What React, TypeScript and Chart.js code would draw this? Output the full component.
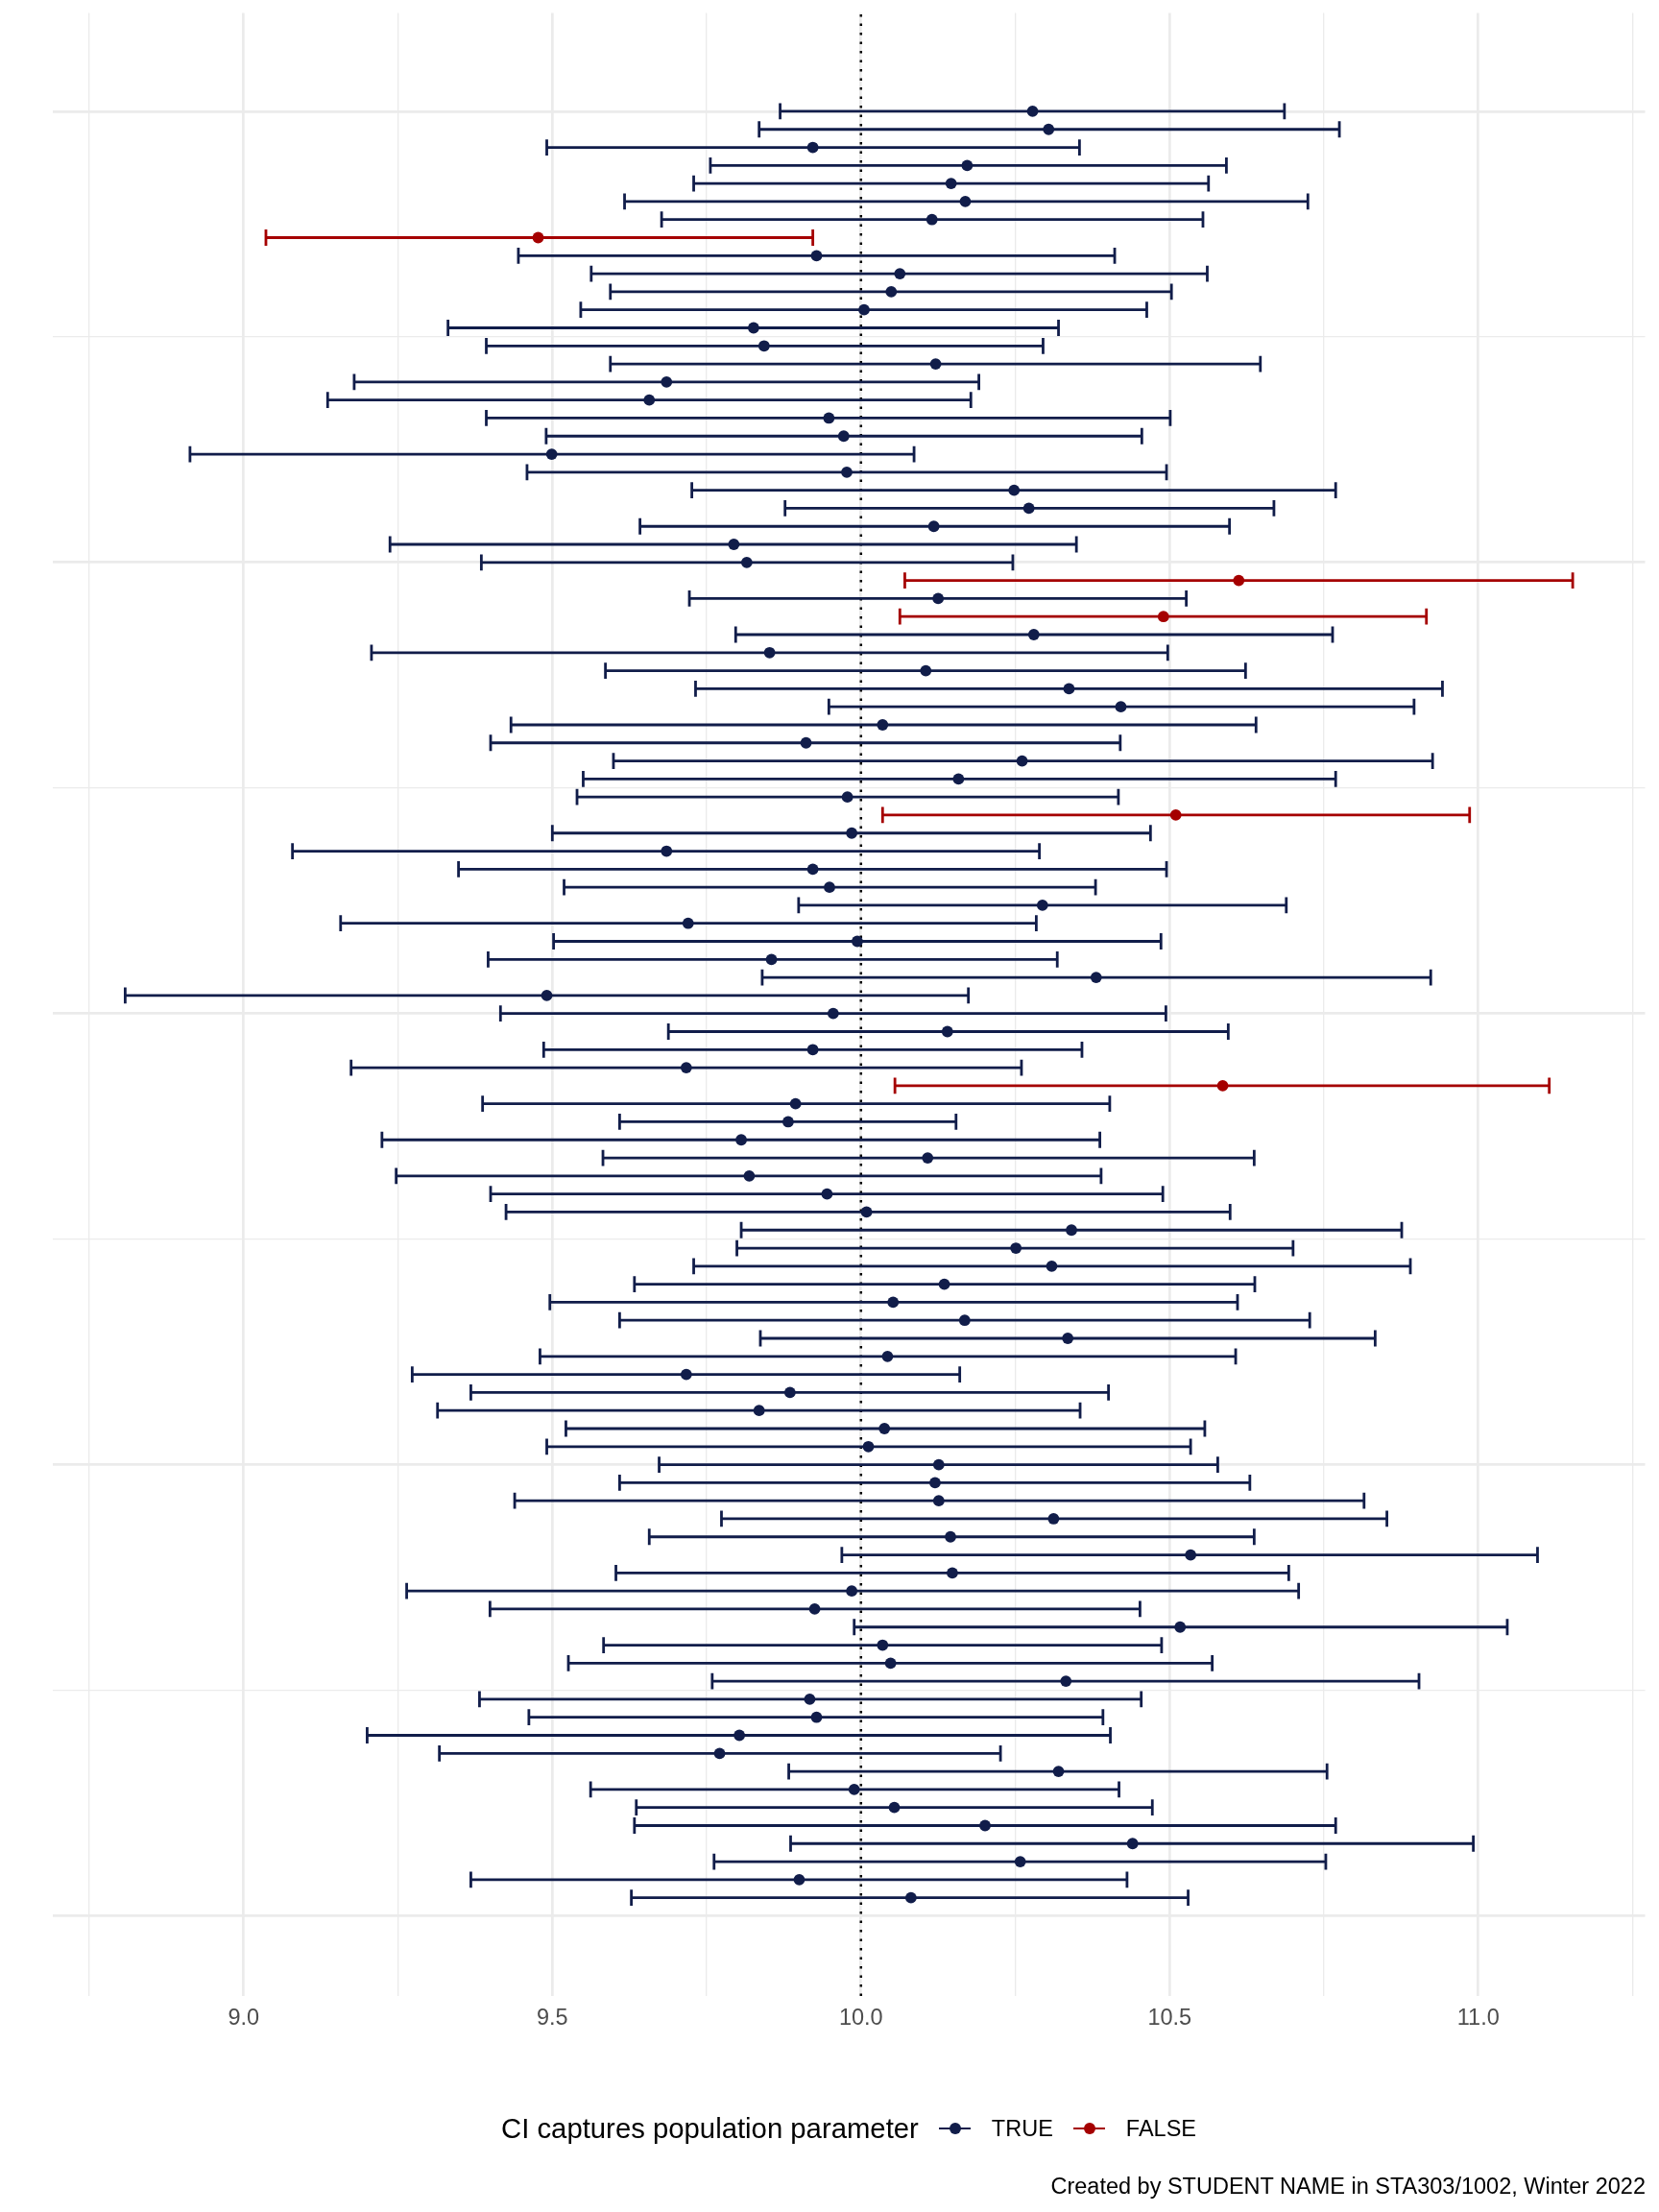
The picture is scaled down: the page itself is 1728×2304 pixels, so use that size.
import React, { useEffect, useRef } from 'react';
import { Chart, registerables } from 'chart.js';

Chart.register(...registerables);

// Intervals listed from the top row (sample 100) down to the bottom row (sample 1)
const lowerBounds = [
  9.869, 9.835, 9.491, 9.756, 9.729, 9.617, 9.677, 9.036, 9.445, 9.563,
  9.594, 9.546, 9.331, 9.393, 9.594, 9.179, 9.136, 9.393, 9.49, 8.913,
  9.459, 9.726, 9.877, 9.642, 9.237, 9.385, 10.071, 9.722, 10.063, 9.797,
  9.207, 9.586, 9.732, 9.948, 9.433, 9.4, 9.599, 9.55, 9.54, 10.035,
  9.5, 9.079, 9.348, 9.519, 9.899, 9.157, 9.502, 9.396, 9.84, 8.808,
  9.416, 9.688, 9.486, 9.174, 10.055, 9.387, 9.609, 9.224, 9.582, 9.247,
  9.4, 9.425, 9.806, 9.799, 9.729, 9.633, 9.496, 9.609, 9.837, 9.48,
  9.273, 9.368, 9.314, 9.522, 9.491, 9.673, 9.609, 9.439, 9.774, 9.657,
  9.969, 9.603, 9.264, 9.399, 9.989, 9.583, 9.526, 9.759, 9.382, 9.462,
  9.2, 9.317, 9.883, 9.562, 9.636, 9.633, 9.886, 9.762, 9.368, 9.628,
];

const estimates = [
  10.278, 10.304, 9.922, 10.172, 10.146, 10.169, 10.115, 9.477, 9.928, 10.063,
  10.049, 10.005, 9.826, 9.843, 10.121, 9.685, 9.657, 9.948, 9.972, 9.499,
  9.977, 10.248, 10.272, 10.118, 9.794, 9.815, 10.612, 10.125, 10.49, 10.28,
  9.852, 10.105, 10.337, 10.421, 10.035, 9.911, 10.261, 10.158, 9.978, 10.51,
  9.985, 9.685, 9.922, 9.949, 10.294, 9.72, 9.994, 9.855, 10.381, 9.491,
  9.955, 10.14, 9.922, 9.717, 10.586, 9.894, 9.882, 9.806, 10.108, 9.819,
  9.945, 10.009, 10.341, 10.251, 10.309, 10.135, 10.052, 10.168, 10.335, 10.043,
  9.717, 9.885, 9.835, 10.038, 10.012, 10.126, 10.12, 10.126, 10.312, 10.145,
  10.534, 10.148, 9.985, 9.925, 10.517, 10.035, 10.048, 10.332, 9.917, 9.928,
  9.803, 9.771, 10.32, 9.989, 10.054, 10.201, 10.44, 10.258, 9.9, 10.081,
];

const upperBounds = [
  10.686, 10.775, 10.354, 10.592, 10.563, 10.724, 10.554, 9.922, 10.411, 10.561,
  10.503, 10.463, 10.32, 10.295, 10.647, 10.191, 10.178, 10.501, 10.455, 10.086,
  10.495, 10.769, 10.669, 10.597, 10.349, 10.246, 11.153, 10.527, 10.916, 10.764,
  10.497, 10.623, 10.942, 10.896, 10.64, 10.42, 10.926, 10.769, 10.417, 10.986,
  10.469, 10.289, 10.495, 10.38, 10.689, 10.284, 10.486, 10.318, 10.923, 10.174,
  10.494, 10.595, 10.358, 10.26, 11.115, 10.403, 10.154, 10.387, 10.637, 10.389,
  10.489, 10.598, 10.876, 10.7, 10.89, 10.638, 10.61, 10.727, 10.833, 10.607,
  10.16, 10.401, 10.355, 10.557, 10.534, 10.578, 10.63, 10.815, 10.852, 10.637,
  11.096, 10.693, 10.709, 10.452, 11.047, 10.487, 10.569, 10.904, 10.454, 10.392,
  10.404, 10.226, 10.755, 10.418, 10.472, 10.769, 10.992, 10.753, 10.431, 10.53,
];

const populationParameter = 10;

const xMajorTicks = [9, 9.5, 10, 10.5, 11];
const xTickLabels = ['9.0', '9.5', '10.0', '10.5', '11.0'];
const xMinorTicks = [8.75, 9.25, 9.75, 10.25, 10.75, 11.25];
const yMajorTicks = [0, 25, 50, 75, 100];
const yMinorTicks = [12.5, 37.5, 62.5, 87.5];

const legendTitle = 'CI captures population parameter';
const legendLabels = ['TRUE', 'FALSE'];
const captionText = 'Created by STUDENT NAME in STA303/1002, Winter 2022';

const COLOR_TRUE = '#111d4a';
const COLOR_FALSE = '#a50000';
const GRID = '#ebebeb';
const FONT = '"Liberation Sans", Arial, Helvetica, sans-serif';
const BAR_W = 2.8;

const W = 1728;
const H = 2304;

export default function App() {
  const canvasRef = useRef<HTMLCanvasElement | null>(null);

  useEffect(() => {
    const canvas = canvasRef.current;
    if (!canvas) return;

    const n = lowerBounds.length;
    const sampleIds = lowerBounds.map((_, i) => n - i);
    const captured = lowerBounds.map(
      (lo, i) => lo <= populationParameter && upperBounds[i] >= populationParameter
    );

    const bars = (flag: boolean) => {
      const out: any[] = [];
      for (let i = 0; i < n; i++) {
        if (captured[i] !== flag) continue;
        out.push({ x: lowerBounds[i], y: sampleIds[i] });
        out.push({ x: upperBounds[i], y: sampleIds[i] });
        out.push({ x: null, y: null });
      }
      return out;
    };
    const caps = (flag: boolean) => {
      const out: any[] = [];
      for (let i = 0; i < n; i++) {
        if (captured[i] !== flag) continue;
        out.push({ x: lowerBounds[i], y: sampleIds[i] });
        out.push({ x: upperBounds[i], y: sampleIds[i] });
      }
      return out;
    };
    const pts = (flag: boolean) => {
      const out: any[] = [];
      for (let i = 0; i < n; i++) {
        if (captured[i] !== flag) continue;
        out.push({ x: estimates[i], y: sampleIds[i] });
      }
      return out;
    };

    const lo = Math.min(...lowerBounds);
    const hi = Math.max(...upperBounds);
    const xPad = 0.05 * (hi - lo);
    const capHalf = 0.45;
    const yLo = Math.min(...sampleIds) - capHalf;
    const yHi = Math.max(...sampleIds) + capHalf;
    const yPad = 0.05 * (yHi - yLo);
    const yMin = yLo - yPad;
    const yMax = yHi + yPad;

    const xTicks = [...xMinorTicks, ...xMajorTicks].sort((a, b) => a - b);
    const yTicks = [...yMinorTicks, ...yMajorTicks].sort((a, b) => a - b);

    const errorLine = (flag: boolean, color: string) => ({
      type: 'line' as const,
      data: bars(flag),
      borderColor: color,
      borderWidth: BAR_W,
      pointRadius: 0,
      spanGaps: false,
      fill: false,
      order: 3,
    });
    const capSet = (flag: boolean, color: string) => ({
      type: 'scatter' as const,
      data: caps(flag),
      pointStyle: 'line',
      pointRotation: 90,
      pointRadius: 8.4,
      pointBorderWidth: BAR_W,
      pointBorderColor: color,
      borderColor: color,
      order: 2,
    });
    const pointSet = (flag: boolean, color: string) => ({
      type: 'scatter' as const,
      data: pts(flag),
      pointStyle: 'circle',
      pointRadius: 5.9,
      pointBorderWidth: 0,
      pointBackgroundColor: color,
      backgroundColor: color,
      order: 1,
    });

    const chart = new Chart(canvas, {
      type: 'scatter',
      data: {
        datasets: [
          {
            type: 'line',
            data: [
              { x: populationParameter, y: yMin },
              { x: populationParameter, y: yMax },
            ],
            borderColor: '#000000',
            borderWidth: 2.5,
            borderDash: [2.5, 7],
            pointRadius: 0,
            fill: false,
            order: 4,
          } as any,
          errorLine(true, COLOR_TRUE) as any,
          errorLine(false, COLOR_FALSE) as any,
          capSet(true, COLOR_TRUE) as any,
          capSet(false, COLOR_FALSE) as any,
          pointSet(true, COLOR_TRUE) as any,
          pointSet(false, COLOR_FALSE) as any,
        ],
      },
      options: {
        animation: false,
        responsive: true,
        maintainAspectRatio: false,
        events: [],
        layout: {
          padding: { left: 55, right: 14.5, top: 13.6, bottom: 185 },
        },
        plugins: {
          legend: { display: false },
          tooltip: { enabled: false },
          title: { display: false },
        },
        scales: {
          x: {
            type: 'linear',
            min: lo - xPad,
            max: hi + xPad,
            afterBuildTicks: (scale: any) => {
              scale.ticks = xTicks.map((v) => ({ value: v }));
            },
            afterFit: (scale: any) => {
              scale.height = 40;
            },
            border: { display: false },
            grid: {
              color: GRID,
              drawTicks: false,
              lineWidth: (ctx: any) =>
                xMajorTicks.includes(ctx.tick?.value) ? 2.7 : 1.35,
            },
            ticks: {
              autoSkip: false,
              maxRotation: 0,
              padding: 9,
              color: '#4d4d4d',
              font: { family: FONT, size: 23.5 },
              callback: (value: any) => {
                const k = xMajorTicks.indexOf(Number(value));
                return k >= 0 ? xTickLabels[k] : '';
              },
            },
          },
          y: {
            type: 'linear',
            min: yMin,
            max: yMax,
            afterBuildTicks: (scale: any) => {
              scale.ticks = yTicks.map((v) => ({ value: v }));
            },
            afterFit: (scale: any) => {
              scale.width = 0;
            },
            border: { display: false },
            grid: {
              color: GRID,
              drawTicks: false,
              lineWidth: (ctx: any) =>
                yMajorTicks.includes(ctx.tick?.value) ? 2.7 : 1.35,
            },
            ticks: { display: false },
          },
        },
      } as any,
    });

    return () => {
      chart.destroy();
    };
  }, []);

  const legendColors = [COLOR_TRUE, COLOR_FALSE];

  return (
    <div
      style={{
        position: 'absolute',
        left: 0,
        top: 0,
        width: W,
        height: H,
        background: '#ffffff',
        overflow: 'hidden',
        fontFamily: FONT,
      }}
    >
      <div style={{ position: 'absolute', left: 0, top: 0, width: W, height: H }}>
        <canvas ref={canvasRef} />
      </div>
      <div
        style={{
          position: 'absolute',
          left: 40,
          width: 1688,
          top: 2197,
          height: 40,
          display: 'flex',
          justifyContent: 'center',
          alignItems: 'center',
          color: '#000000',
          whiteSpace: 'nowrap',
        }}
      >
        <span style={{ fontSize: 29.3, lineHeight: '40px' }}>{legendTitle}</span>
        {legendLabels.map((lab, i) => (
          <React.Fragment key={lab}>
            <span
              style={{
                position: 'relative',
                display: 'inline-block',
                width: 35,
                height: 35,
                marginLeft: 20.5,
              }}
            >
              <span
                style={{
                  position: 'absolute',
                  left: 1,
                  top: 16.1,
                  width: 33,
                  height: BAR_W,
                  background: legendColors[i],
                }}
              />
              <span
                style={{
                  position: 'absolute',
                  left: 11.6,
                  top: 11.6,
                  width: 11.8,
                  height: 11.8,
                  borderRadius: '50%',
                  background: legendColors[i],
                }}
              />
            </span>
            <span style={{ fontSize: 23.5, lineHeight: '40px', marginLeft: 20.5 }}>{lab}</span>
          </React.Fragment>
        ))}
      </div>
      <div
        style={{
          position: 'absolute',
          right: 14,
          top: 2257,
          height: 40,
          lineHeight: '40px',
          fontSize: 23.5,
          color: '#000000',
          whiteSpace: 'nowrap',
        }}
      >
        {captionText}
      </div>
    </div>
  );
}
